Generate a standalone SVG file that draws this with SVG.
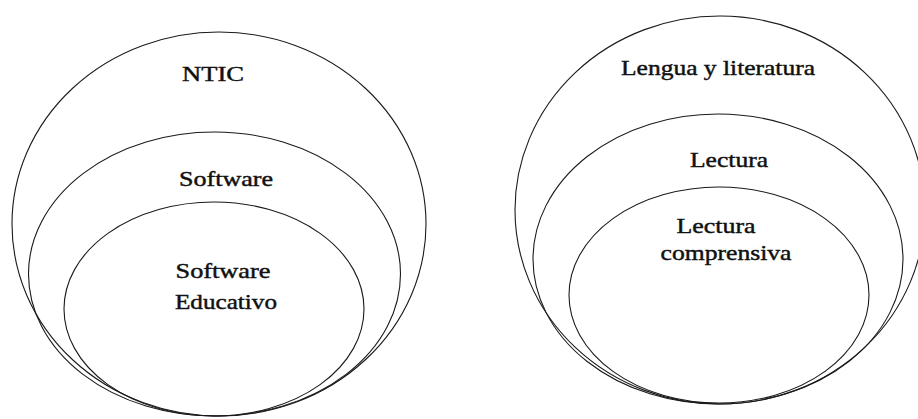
<svg xmlns="http://www.w3.org/2000/svg" width="918" height="419" viewBox="0 0 918 419">
<style>
.c{fill:none;stroke:#1a1a1a;stroke-width:1.1}
.t{font-family:"Liberation Serif","DejaVu Serif",serif;font-size:22px;fill:#111;stroke:#111;stroke-width:0.45;text-anchor:middle}
</style>
<rect width="918" height="419" fill="#fff"/>
<g id="ntic"><ellipse class="c" cx="219" cy="224" rx="207" ry="192"/><text class="t" x="213" y="81" textLength="62" lengthAdjust="spacingAndGlyphs">NTIC</text></g>
<g id="software"><ellipse class="c" cx="214.5" cy="274" rx="186" ry="142"/><text class="t" x="226" y="186" textLength="94" lengthAdjust="spacingAndGlyphs">Software</text></g>
<g id="software-educativo"><ellipse class="c" cx="214" cy="309" rx="150" ry="107"/><text class="t" x="223" y="278" textLength="95" lengthAdjust="spacingAndGlyphs">Software</text><text class="t" x="226" y="309" textLength="102" lengthAdjust="spacingAndGlyphs">Educativo</text></g>
<g id="lengua"><ellipse class="c" cx="720" cy="210" rx="205" ry="194"/><text class="t" x="718" y="75" textLength="194" lengthAdjust="spacingAndGlyphs">Lengua y literatura</text></g>
<g id="lectura"><ellipse class="c" cx="718" cy="259" rx="185" ry="145"/><text class="t" x="729" y="167" textLength="78" lengthAdjust="spacingAndGlyphs">Lectura</text></g>
<g id="lectura-comprensiva"><ellipse class="c" cx="719" cy="295" rx="150" ry="108"/><text class="t" x="716" y="233" textLength="79" lengthAdjust="spacingAndGlyphs">Lectura</text><text class="t" x="726" y="260" textLength="131" lengthAdjust="spacingAndGlyphs">comprensiva</text></g>
<g id="connectors"/>
</svg>
